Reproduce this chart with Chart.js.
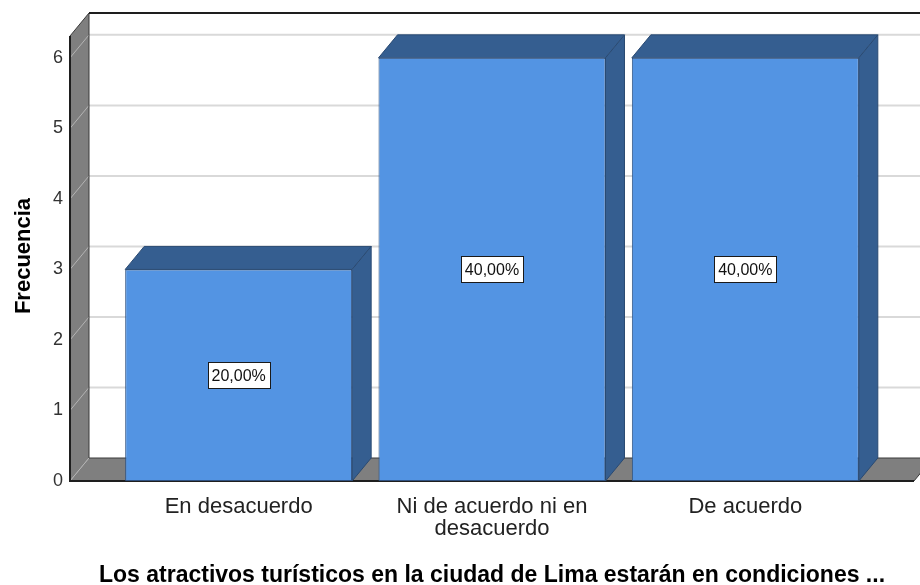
<!DOCTYPE html>
<html>
<head>
<meta charset="utf-8">
<script src="https://cdn.jsdelivr.net/npm/chart.js@4.4.1/dist/chart.umd.min.js"></script>
<style>
  html, body { margin: 0; padding: 0; background: #fff; }
  #wrap { width: 920px; height: 585px; position: relative; }
</style>
</head>
<body>
<div id="wrap"><canvas id="chart"></canvas></div>
<script>
const categories = [
  ['En desacuerdo'],
  ['Ni de acuerdo ni en', 'desacuerdo'],
  ['De acuerdo']
]
const frequencies = [3, 6, 6]
const yTicks = [0, 1, 2, 3, 4, 5, 6]
const xTitle = 'Los atractivos turísticos en la ciudad de Lima estarán en condiciones ...'
const yTitle = 'Frecuencia'

const total = frequencies.reduce((a, b) => a + b, 0)
const percentages = frequencies.map(f => (f / total * 100).toFixed(2).replace('.', ',') + '%')

// depth of the 3D box and how far the walls run past the outer bars
const DX = 19
const DY = 23
const SIDE = 42
const FONT = '"Liberation Sans", Arial, sans-serif'

const frame3d = {
  id: 'frame3d',
  beforeDatasetsDraw(chart) {
    const { ctx, chartArea: area, scales: { y } } = chart
    const left = area.left - SIDE
    const right = area.right + SIDE
    const top = area.top
    const bottom = y.getPixelForValue(0)

    ctx.save()

    // gridlines on the back wall
    ctx.strokeStyle = '#d9d9d9'
    ctx.lineWidth = 2
    yTicks.forEach(v => {
      if (v === 0) return
      const py = y.getPixelForValue(v) - DY
      ctx.beginPath()
      ctx.moveTo(left + DX, py)
      ctx.lineTo(chart.width, py)
      ctx.stroke()
    })

    // left wall
    ctx.fillStyle = '#7f7f7f'
    ctx.beginPath()
    ctx.moveTo(left, top)
    ctx.lineTo(left + DX, top - DY)
    ctx.lineTo(left + DX, bottom - DY)
    ctx.lineTo(left, bottom)
    ctx.closePath()
    ctx.fill()

    // floor
    ctx.beginPath()
    ctx.moveTo(left, bottom)
    ctx.lineTo(left + DX, bottom - DY)
    ctx.lineTo(right + DX, bottom - DY)
    ctx.lineTo(right, bottom)
    ctx.closePath()
    ctx.fill()

    // gridlines running across the left wall
    ctx.strokeStyle = '#b4b4b4'
    ctx.lineWidth = 1
    yTicks.forEach(v => {
      const py = y.getPixelForValue(v)
      ctx.beginPath()
      ctx.moveTo(left, py)
      ctx.lineTo(left + DX, py - DY)
      ctx.stroke()
    })

    // edges
    ctx.strokeStyle = '#3a3a3a'
    ctx.lineWidth = 1
    ctx.beginPath()
    ctx.moveTo(left + DX, top - DY)
    ctx.lineTo(left + DX, bottom - DY)
    ctx.lineTo(right + DX, bottom - DY)
    ctx.moveTo(left, top)
    ctx.lineTo(left + DX, top - DY)
    ctx.moveTo(right, bottom)
    ctx.lineTo(right + DX, bottom - DY)
    ctx.stroke()

    ctx.strokeStyle = '#1e1e1e'
    ctx.lineWidth = 2
    ctx.beginPath()
    ctx.moveTo(left + DX, top - DY)
    ctx.lineTo(chart.width, top - DY)
    ctx.moveTo(left, top)
    ctx.lineTo(left, bottom)
    ctx.lineTo(right, bottom)
    ctx.stroke()

    // y tick labels
    ctx.fillStyle = '#333'
    ctx.font = '18px ' + FONT
    ctx.textAlign = 'right'
    ctx.textBaseline = 'middle'
    yTicks.forEach(v => {
      ctx.fillText(String(v), left - 7, y.getPixelForValue(v))
    })

    ctx.restore()
  },

  afterDatasetsDraw(chart) {
    const { ctx, scales: { x, y } } = chart
    const meta = chart.getDatasetMeta(0)
    const base = y.getPixelForValue(0)

    ctx.save()
    meta.data.forEach((bar, i) => {
      const x1 = bar.x - bar.width / 2
      const x2 = bar.x + bar.width / 2
      const yt = bar.y

      ctx.fillStyle = '#355e90'
      ctx.strokeStyle = '#2a4a72'
      ctx.lineWidth = 1

      // top face
      ctx.beginPath()
      ctx.moveTo(x1, yt)
      ctx.lineTo(x1 + DX, yt - DY)
      ctx.lineTo(x2 + DX, yt - DY)
      ctx.lineTo(x2, yt)
      ctx.closePath()
      ctx.fill()
      ctx.stroke()

      // side face
      ctx.beginPath()
      ctx.moveTo(x2, yt)
      ctx.lineTo(x2 + DX, yt - DY)
      ctx.lineTo(x2 + DX, base - DY)
      ctx.lineTo(x2, base)
      ctx.closePath()
      ctx.fill()
      ctx.stroke()

      // percentage box in the middle of the bar
      const cy = y.getPixelForValue(frequencies[i] / 2)
      ctx.font = '16px ' + FONT
      const label = percentages[i]
      const w = ctx.measureText(label).width + 8
      const h = 26
      ctx.fillStyle = '#fff'
      ctx.fillRect(Math.round(bar.x - w / 2) + 0.5, Math.round(cy - h / 2) + 0.5, Math.round(w), h)
      ctx.strokeStyle = '#1a1a1a'
      ctx.strokeRect(Math.round(bar.x - w / 2) + 0.5, Math.round(cy - h / 2) + 0.5, Math.round(w), h)
      ctx.fillStyle = '#111'
      ctx.textAlign = 'center'
      ctx.textBaseline = 'middle'
      ctx.fillText(label, bar.x, cy + 1)
    })

    // category labels
    ctx.fillStyle = '#222'
    ctx.font = '22px ' + FONT
    ctx.textAlign = 'center'
    ctx.textBaseline = 'alphabetic'
    categories.forEach((lines, i) => {
      const cx = x.getPixelForValue(i)
      lines.forEach((line, j) => ctx.fillText(line, cx, 513 + j * 22))
    })

    // axis titles
    ctx.fillStyle = '#000'
    ctx.font = 'bold 23px ' + FONT
    ctx.fillText(xTitle, (chart.chartArea.left + chart.chartArea.right) / 2, 582)

    ctx.save()
    ctx.translate(30, 256)
    ctx.rotate(-Math.PI / 2)
    ctx.font = 'bold 22px ' + FONT
    ctx.fillText(yTitle, 0, 0)
    ctx.restore()

    ctx.restore()
  }
}

new Chart(document.getElementById('chart'), {
  type: 'bar',
  data: {
    labels: categories,
    datasets: [{
      data: frequencies,
      backgroundColor: '#5394e3',
      borderColor: '#2e5080',
      borderWidth: 1,
      borderSkipped: false,
      categoryPercentage: 1,
      barPercentage: 0.896
    }]
  },
  options: {
    responsive: true,
    maintainAspectRatio: false,
    animation: false,
    layout: { padding: { left: 112, right: 48, top: 36, bottom: 104 } },
    plugins: { legend: { display: false }, tooltip: { enabled: false } },
    scales: {
      x: { display: false },
      y: { display: false, min: 0, max: 6.31 }
    }
  },
  plugins: [frame3d]
})
</script>
</body>
</html>
